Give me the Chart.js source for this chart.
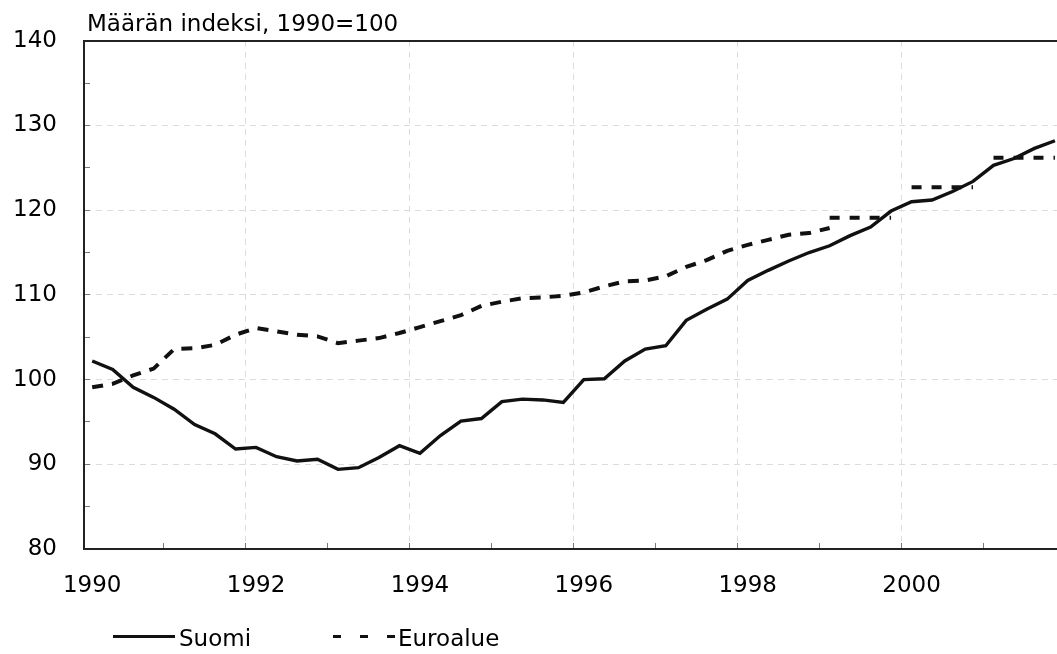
<!DOCTYPE html>
<html lang="fi">
<head>
<meta charset="utf-8">
<title>Määrän indeksi</title>
<script src="https://cdn.jsdelivr.net/npm/chart.js@4.4.0/dist/chart.umd.min.js"></script>
<style>
    body { margin: 0; background: #fff; }
    #wrap { position: relative; width: 1057px; height: 654px; font-family: 'DejaVu Sans', sans-serif; color: #000; }
    #myChart { position: absolute; left: 0; top: 0; }
    .teksti { position: absolute; font-size: 23px; line-height: 23px; white-space: nowrap; }
    .viiva { position: absolute; height: 3px; background: #111; }
    .katko { position: absolute; height: 3px; background: repeating-linear-gradient(to right, #111 0 8px, transparent 8px 27px); }
</style>
</head>
<body>
<div id="wrap">
    <canvas id="myChart" width="1057" height="654"></canvas>
    <div class="teksti" style="left:87px; top:12px;">Määrän indeksi, 1990=100</div>
    <div class="viiva" style="left:113px; top:635px; width:62px;"></div>
    <div class="teksti" style="left:179px; top:627px;">Suomi</div>
    <div class="katko" style="left:333px; top:635px; width:64px;"></div>
    <div class="teksti" style="left:398px; top:627px;">Euroalue</div>
</div>
<script>
// vuosiluvut x-akselilla (joka toinen vuosi)
const vuodet = ['1990', '1992', '1994', '1996', '1998', '2000'];

// neljännesvuosiarvot 1990Q1 - 2001Q4
const suomi = [
    102.2, 101.2, 99.1, 97.9, 96.5, 94.7, 93.6, 91.8,
    92.0, 90.9, 90.4, 90.6, 89.4, 89.6, 90.8, 92.2,
    91.3, 93.4, 95.1, 95.4, 97.4, 97.7, 97.6, 97.3,
    100.0, 100.1, 102.2, 103.6, 104.0, 107.0, 108.3, 109.5,
    111.7, 112.9, 114.0, 115.0, 115.8, 117.0, 118.0, 119.9,
    121.0, 121.2, 122.2, 123.4, 125.3, 126.1, 127.3, 128.2
];

// euroalue neljännesvuosittain 1990Q1 - 1999Q1
const euroalue = [
    99.1, 99.5, 100.5, 101.3, 103.6, 103.7, 104.1, 105.3,
    106.1, 105.7, 105.3, 105.1, 104.3, 104.6, 104.9, 105.5,
    106.2, 106.9, 107.6, 108.7, 109.2, 109.6, 109.7, 109.9,
    110.3, 111.0, 111.6, 111.7, 112.2, 113.3, 114.1, 115.2,
    115.9, 116.5, 117.1, 117.3, 117.9
];

// euroalue vuositasolla 1999 - 2001
const euroalueVuodet = [1999, 2000, 2001];
const euroalueVuosi = [119.1, 122.7, 126.2];

Chart.defaults.font.family = "'DejaVu Sans', sans-serif";
Chart.defaults.color = '#000';

function pisteet(arvot) {
    return arvot.map((v, i) => ({ x: i, y: v }));
}

function vuosiPisteet() {
    const p = [];
    euroalueVuodet.forEach((v, k) => {
        const alku = (v - 1990) * 4;
        for (let q = 0; q < 4; q++) {
            p.push({ x: alku + q, y: euroalueVuosi[k] });
        }
        p.push({ x: alku + 3.5, y: null });
    });
    return p;
}

const fontti = { size: 23 };
const harmaa = '#dcdcdc';
const xMin = -0.4;
const xMax = 47.1;

const ctx = document.getElementById('myChart');

new Chart(ctx, {
    type: 'line',
    data: {
        datasets: [{
            label: 'Suomi',
            data: pisteet(suomi),
            borderColor: '#111',
            borderWidth: 3.4,
            pointRadius: 0,
            tension: 0
        },
        {
            label: 'Euroalue',
            data: pisteet(euroalue),
            borderColor: '#111',
            borderWidth: 4,
            borderDash: [11, 9],
            pointRadius: 0,
            tension: 0
        },
        {
            label: 'Euroalue (vuosi)',
            data: vuosiPisteet(),
            borderColor: '#111',
            borderWidth: 4,
            borderDash: [10, 10],
            pointRadius: 0,
            spanGaps: false,
            tension: 0
        }]
    },
    options: {
        responsive: false,
        animation: false,
        layout: {
            padding: { top: 36, left: 0, right: 0, bottom: 0 }
        },
        plugins: {
            legend: { display: false },
            tooltip: { enabled: false },
            title: { display: false }
        },
        scales: {
            x: {
                type: 'linear',
                position: 'bottom',
                min: xMin,
                max: xMax,
                afterBuildTicks: s => { s.ticks = vuodet.map((v, k) => ({ value: k * 8 })); },
                ticks: {
                    callback: (val, i) => vuodet[i],
                    autoSkip: false,
                    maxRotation: 0,
                    padding: 23,
                    font: fontti
                },
                grid: { display: false, drawTicks: false },
                border: { display: true, color: '#222', width: 2 },
                afterFit: s => { s.height = 105; }
            },
            xVuosi: {
                type: 'linear',
                position: 'bottom',
                weight: -1,
                min: xMin,
                max: xMax,
                afterBuildTicks: s => {
                    const t = [];
                    for (let k = 1; k <= 11; k++) t.push({ value: k * 4 - 0.5 });
                    s.ticks = t;
                },
                ticks: { display: false },
                grid: {
                    color: c => ((c.tick.value + 0.5) % 8 === 0 ? harmaa : 'rgba(0,0,0,0)'),
                    drawTicks: true,
                    tickLength: -6,
                    tickColor: '#777',
                    tickWidth: 1
                },
                border: { display: false, dash: [6, 5] },
                afterFit: s => { s.height = 0; }
            },
            xYla: {
                type: 'linear',
                position: 'top',
                min: xMin,
                max: xMax,
                ticks: { display: false },
                grid: { display: false, drawTicks: false },
                border: { display: true, color: '#222', width: 2 },
                afterFit: s => { s.height = 0; }
            },
            y: {
                type: 'linear',
                position: 'left',
                min: 80,
                max: 140,
                ticks: { stepSize: 10, padding: 27, font: fontti },
                grid: {
                    color: c => (c.tick.value === 80 || c.tick.value === 140 ? 'rgba(0,0,0,0)' : harmaa),
                    drawTicks: false
                },
                border: { display: true, color: '#222', width: 2, dash: [6, 5] },
                afterFit: s => { s.width = 84; }
            },
            yPieni: {
                type: 'linear',
                position: 'left',
                weight: -1,
                min: 80,
                max: 140,
                ticks: { display: false, stepSize: 5 },
                grid: {
                    drawOnChartArea: false,
                    drawTicks: true,
                    tickLength: -6,
                    tickColor: '#777'
                },
                border: { display: false },
                afterFit: s => { s.width = 0; }
            }
        }
    }
});
</script>
</body>
</html>
